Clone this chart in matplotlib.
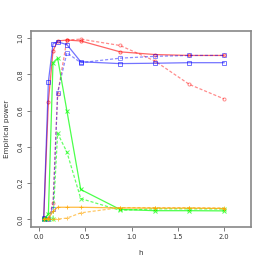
import matplotlib
matplotlib.use("Agg")
import matplotlib.pyplot as plt

h = [0.05, 0.1, 0.15, 0.2, 0.3, 0.45, 0.875, 1.25, 1.625, 2.0]

red_solid = [0.01, 0.65, 0.93, 0.985, 0.99, 0.985, 0.925, 0.91, 0.905, 0.905]
red_dashed = [0.0, 0.0, 0.09, 0.69, 0.99, 0.995, 0.96, 0.875, 0.745, 0.665]
blue_solid = [0.01, 0.76, 0.97, 0.98, 0.965, 0.87, 0.86, 0.862, 0.865, 0.865]
blue_dashed = [0.0, 0.0, 0.055, 0.70, 0.92, 0.865, 0.89, 0.90, 0.905, 0.905]
green_solid = [0.0, 0.03, 0.865, 0.89, 0.60, 0.165, 0.055, 0.048, 0.048, 0.047]
green_dashed = [0.0, 0.0, 0.0, 0.475, 0.372, 0.115, 0.05, 0.058, 0.058, 0.057]
orange_solid = [0.0, 0.005, 0.045, 0.067, 0.067, 0.067, 0.063, 0.062, 0.062, 0.060]
orange_dashed = [0.0, 0.0, 0.0, 0.002, 0.007, 0.036, 0.065, 0.065, 0.065, 0.063]

dash = (0, (2.5, 1.5))
series = [
    (red_solid, "#FF0000", "-", "o", 0.6),
    (red_dashed, "#FF0000", dash, "o", 0.45),
    (blue_solid, "#0000FF", "-", "s", 0.55),
    (blue_dashed, "#0000FF", dash, "s", 0.45),
    (green_solid, "#00FF00", "-", "x", 0.7),
    (green_dashed, "#00FF00", dash, "x", 0.6),
    (orange_solid, "#FFA500", "-", "+", 0.75),
    (orange_dashed, "#FFA500", dash, "+", 0.6),
]

fig = plt.figure(figsize=(2.66, 2.66), dpi=100)
ax = fig.add_axes([0.1165, 0.148, 0.826, 0.7355])

for vals, col, ls, mk, a in series:
    ax.plot(h, vals, color=col, linestyle=ls, linewidth=0.9, alpha=a,
            marker=mk, markersize=2.2, markerfacecolor="none",
            markeredgewidth=0.7)

ax.set_xlim(-0.088, 2.288)
ax.set_ylim(-0.04, 1.04)
ax.set_xticks([0.0, 0.5, 1.0, 1.5, 2.0])
ax.set_xticklabels(["0.0", "0.5", "1.0", "1.5", "2.0"])
ax.set_yticks([0.0, 0.2, 0.4, 0.6, 0.8, 1.0])
ax.set_yticklabels(["0.0", "0.2", "0.4", "0.6", "0.8", "1.0"], rotation=90, va="center")
ax.tick_params(labelsize=4.8, length=3, width=0.6, colors="#666666", labelcolor="#333333", pad=2.5)
for s in ax.spines.values():
    s.set_color("#888888")
    s.set_linewidth(1.2)
ax.set_xlabel("h", fontsize=5.2, color="#333333", labelpad=7)
ax.set_ylabel("Empirical power", fontsize=5.2, color="#333333", labelpad=5)

fig.savefig("out.png", dpi=100)
